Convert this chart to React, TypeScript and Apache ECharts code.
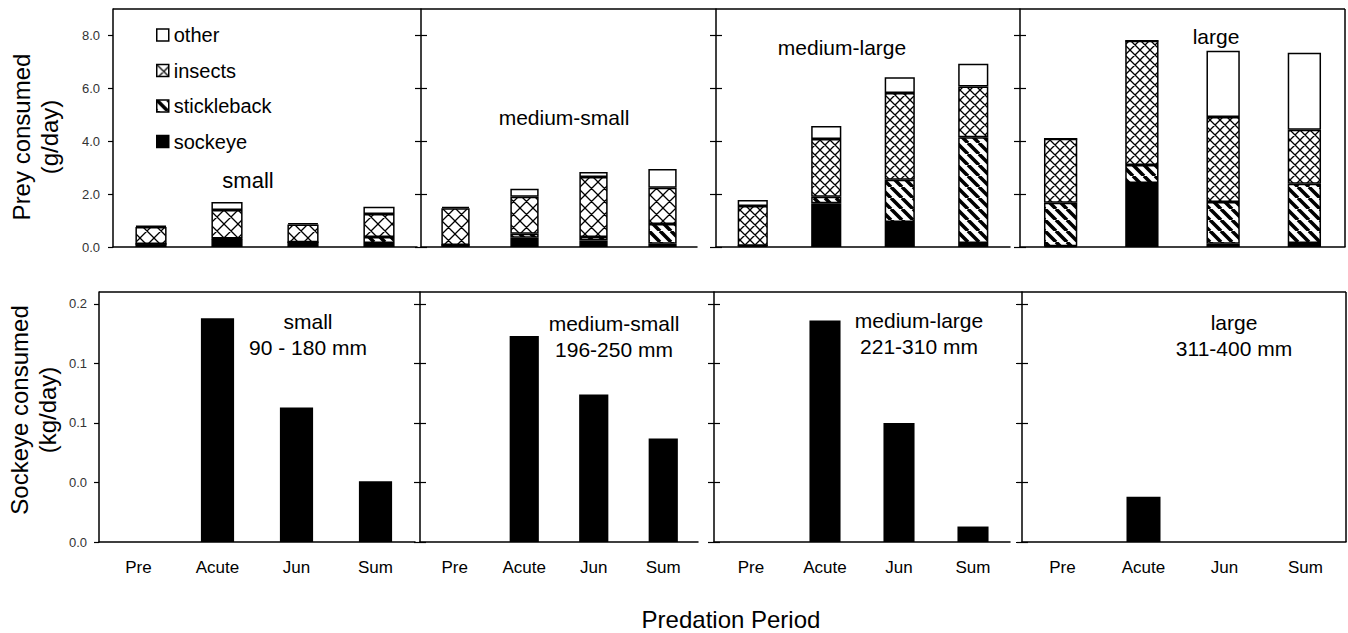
import React, { useEffect, useRef } from 'react';
import * as echarts from 'echarts';

// ---------- data ----------
const categories = ['Pre', 'Acute', 'Jun', 'Sum'];
const sizeClasses = ['small', 'medium-small', 'medium-large', 'large'];
const sizeRanges = ['90 - 180 mm', '196-250 mm', '221-310 mm', '311-400 mm'];
const preyTypes = ['sockeye', 'stickleback', 'insects', 'other']; // stacking order (bottom -> top)
const legendOrder = ['other', 'insects', 'stickleback', 'sockeye'];

// Prey consumed (g/day)
const smallSockeye = [0.11, 0.3, 0.18, 0.15];
const smallStickleback = [0.0, 0.02, 0.0, 0.23];
const smallInsects = [0.65, 1.08, 0.67, 0.87];
const smallOther = [0.04, 0.3, 0.05, 0.27];

const medSmallSockeye = [0.08, 0.35, 0.25, 0.12];
const medSmallStickleback = [0.0, 0.15, 0.13, 0.75];
const medSmallInsects = [1.39, 1.4, 2.27, 1.37];
const medSmallOther = [0.05, 0.3, 0.19, 0.71];

const medLargeSockeye = [0.05, 1.65, 0.95, 0.15];
const medLargeStickleback = [0.0, 0.25, 1.59, 4.0];
const medLargeInsects = [1.5, 2.18, 3.28, 1.92];
const medLargeOther = [0.23, 0.5, 0.6, 0.86];

const largeSockeye = [0.03, 2.42, 0.12, 0.15];
const largeStickleback = [1.64, 0.68, 1.58, 2.24];
const largeInsects = [2.42, 4.7, 3.22, 2.04];
const largeOther = [0.0, 0.0, 2.5, 2.92];

// Sockeye consumed (kg/day)
const sockeyeKgSmall = [0, 0.188, 0.113, 0.051];
const sockeyeKgMedSmall = [0, 0.173, 0.124, 0.087];
const sockeyeKgMedLarge = [0, 0.186, 0.1, 0.013];
const sockeyeKgLarge = [0, 0.038, 0, 0];

const preyTickValues = [0, 2, 4, 6, 8];
const preyTickLabels = ['0.0', '2.0', '4.0', '6.0', '8.0'];
const sockeyeTickValues = [0, 0.05, 0.1, 0.15, 0.2];
const sockeyeTickLabels = ['0.0', '0.0', '0.1', '0.1', '0.2'];

const yTitleTop = 'Prey consumed\n(g/day)';
const yTitleBottom = 'Sockeye consumed\n(kg/day)';
const xTitle = 'Predation Period';

const preyByPanel: Record<string, number[]>[] = [
  { sockeye: smallSockeye, stickleback: smallStickleback, insects: smallInsects, other: smallOther },
  { sockeye: medSmallSockeye, stickleback: medSmallStickleback, insects: medSmallInsects, other: medSmallOther },
  { sockeye: medLargeSockeye, stickleback: medLargeStickleback, insects: medLargeInsects, other: medLargeOther },
  { sockeye: largeSockeye, stickleback: largeStickleback, insects: largeInsects, other: largeOther },
];
const sockeyeKgByPanel = [sockeyeKgSmall, sockeyeKgMedSmall, sockeyeKgMedLarge, sockeyeKgLarge];

// ---------- layout / style ----------
const FONT = '"Liberation Sans", Arial, Helvetica, sans-serif';
const TOP_ROW = { top: 9, height: 238 };
const BOTTOM_ROW = { top: 292, height: 250 };
const TOP_X = [[113, 417], [421, 697], [716, 1010], [1020, 1345]];
const BOTTOM_X = [[99, 415], [420, 698], [714, 1010], [1022, 1346]];
const TOP_LABEL_POS = [[248, 180], [564, 117], [842, 47], [1216, 36]];
const TOP_LABEL_SIZE = [22, 21, 21, 21];
const BOTTOM_LABEL_POS = [[308, 334], [614, 336], [919, 333], [1234, 335]];
const CROSS_CELL = [14, 13, 10, 10];

function makeHatch(kind: 'cross' | 'diag', s: number): HTMLCanvasElement {
  const c = document.createElement('canvas');
  c.width = s;
  c.height = s;
  const ctx = c.getContext('2d')!;
  ctx.fillStyle = '#fff';
  ctx.fillRect(0, 0, s, s);
  ctx.strokeStyle = '#000';
  ctx.lineWidth = kind === 'cross' ? 1.3 : 3.6;
  ctx.beginPath();
  for (const o of [-s, 0, s]) {
    ctx.moveTo(o, 0);
    ctx.lineTo(o + s, s);
    if (kind === 'cross') {
      ctx.moveTo(o, s);
      ctx.lineTo(o + s, 0);
    }
  }
  ctx.stroke();
  return c;
}

function tickFormatter(values: number[], labels: string[]) {
  return (v: number) => {
    for (let i = 0; i < values.length; i++) {
      if (Math.abs(v - values[i]) < 1e-6) return labels[i];
    }
    return '';
  };
}

export default function App() {
  const ref = useRef<HTMLDivElement>(null);

  useEffect(() => {
    const el = ref.current!;
    const chart = echarts.init(el, null, { renderer: 'svg' });

    const diag = makeHatch('diag', 11);
    const grids: any[] = [];
    const xAxes: any[] = [];
    const yAxes: any[] = [];
    const series: any[] = [];
    const graphics: any[] = [];

    const rows = [
      { row: TOP_ROW, xs: TOP_X, max: 9, interval: 2, tv: preyTickValues, tl: preyTickLabels, title: yTitleTop, gap: 50, pad: [0, 18, 0, 0] },
      { row: BOTTOM_ROW, xs: BOTTOM_X, max: 0.21, interval: 0.05, tv: sockeyeTickValues, tl: sockeyeTickLabels, title: yTitleBottom, gap: 38, pad: [0, 0, 0, 14] },
    ];

    rows.forEach((r, ri) => {
      r.xs.forEach(([x0, x1], pi) => {
        const gi = grids.length;
        grids.push({ left: x0, width: x1 - x0, top: r.row.top, height: r.row.height, containLabel: false });
        xAxes.push({
          type: 'category',
          gridIndex: gi,
          position: 'bottom',
          data: categories,
          axisLine: { show: true, lineStyle: { color: '#000', width: 1.5 } },
          axisTick: { show: false },
          axisLabel: {
            show: ri === 1,
            fontSize: 17,
            fontFamily: FONT,
            color: '#000',
            margin: 17,
          },
          splitLine: { show: false },
        });
        const mainY = yAxes.length;
        yAxes.push({
          type: 'value',
          gridIndex: gi,
          position: 'left',
          offset: 0,
          min: 0,
          max: r.max,
          interval: r.interval,
          axisLine: { show: true, onZero: false, lineStyle: { color: '#000', width: 1.5 } },
          axisTick: { show: true, inside: false, length: pi === 0 ? 5 : 6, customValues: r.tv, lineStyle: { color: '#000', width: 1.2 } },
          axisLabel: {
            show: pi === 0,
            customValues: r.tv,
            formatter: tickFormatter(r.tv, r.tl),
            fontSize: 13,
            fontFamily: FONT,
            color: '#333',
            margin: ri === 0 ? 13 : 12,
          },
          splitLine: { show: false },
          name: pi === 0 ? r.title : '',
          nameLocation: 'middle',
          nameRotate: 90,
          nameGap: r.gap,
          nameTextStyle: { fontSize: 24, lineHeight: 28, fontFamily: FONT, color: '#000', padding: r.pad },
        });
        if (pi > 0) {
          yAxes.push({
            type: 'value',
            gridIndex: gi,
            position: 'left',
            offset: 0,
            min: 0,
            max: r.max,
            interval: r.interval,
            axisLine: { show: false, onZero: false },
            axisTick: { show: true, inside: true, length: 6, customValues: r.tv, lineStyle: { color: '#000', width: 1.2 } },
            axisLabel: { show: false },
            splitLine: { show: false },
          });
        }

        if (ri === 0) {
          const cross = makeHatch('cross', CROSS_CELL[pi]);
          const fills: Record<string, any> = {
            sockeye: '#000',
            stickleback: { image: diag, repeat: 'repeat' },
            insects: { image: cross, repeat: 'repeat' },
            other: '#fff',
          };
          preyTypes.forEach((p) => {
            series.push({
              type: 'bar',
              name: p,
              stack: 'panel' + pi,
              xAxisIndex: gi,
              yAxisIndex: mainY,
              barWidth: '41%',
              data: preyByPanel[pi][p],
              itemStyle: { color: fills[p], borderColor: '#000', borderWidth: 1.5 },
              emphasis: { disabled: true },
            });
          });
          graphics.push({
            type: 'text',
            x: TOP_LABEL_POS[pi][0],
            y: TOP_LABEL_POS[pi][1],
            style: {
              text: sizeClasses[pi],
              fontSize: TOP_LABEL_SIZE[pi],
              fontFamily: FONT,
              fill: '#000',
              align: 'center',
              verticalAlign: 'middle',
              textAlign: 'center',
              textVerticalAlign: 'middle',
            },
          });
        } else {
          series.push({
            type: 'bar',
            name: 'Sockeye consumed',
            xAxisIndex: gi,
            yAxisIndex: mainY,
            barWidth: '42%',
            data: sockeyeKgByPanel[pi],
            itemStyle: { color: '#000' },
            emphasis: { disabled: true },
          });
          graphics.push({
            type: 'text',
            x: BOTTOM_LABEL_POS[pi][0],
            y: BOTTOM_LABEL_POS[pi][1],
            style: {
              text: sizeClasses[pi] + '\n' + sizeRanges[pi],
              fontSize: 21,
              lineHeight: 26,
              fontFamily: FONT,
              fill: '#000',
              align: 'center',
              verticalAlign: 'middle',
              textAlign: 'center',
              textVerticalAlign: 'middle',
            },
          });
        }
      });
    });

    // frame lines (top and right borders of each row)
    const frame = { stroke: '#000', lineWidth: 1.5 };
    graphics.push(
      { type: 'line', shape: { x1: TOP_X[0][0], y1: TOP_ROW.top, x2: TOP_X[3][1], y2: TOP_ROW.top }, style: frame },
      { type: 'line', shape: { x1: TOP_X[3][1], y1: TOP_ROW.top, x2: TOP_X[3][1], y2: TOP_ROW.top + TOP_ROW.height }, style: frame },
      { type: 'line', shape: { x1: BOTTOM_X[0][0], y1: BOTTOM_ROW.top, x2: BOTTOM_X[3][1], y2: BOTTOM_ROW.top }, style: frame },
      { type: 'line', shape: { x1: BOTTOM_X[3][1], y1: BOTTOM_ROW.top, x2: BOTTOM_X[3][1], y2: BOTTOM_ROW.top + BOTTOM_ROW.height }, style: frame },
      {
        type: 'text',
        x: 731,
        y: 619,
        style: {
          text: xTitle,
          fontSize: 24,
          fontFamily: FONT,
          fill: '#000',
          align: 'center',
          verticalAlign: 'middle',
          textAlign: 'center',
          textVerticalAlign: 'middle',
        },
      }
    );

    chart.setOption({
      animation: false,
      backgroundColor: '#fff',
      grid: grids,
      xAxis: xAxes,
      yAxis: yAxes,
      legend: {
        data: legendOrder,
        orient: 'vertical',
        left: 151,
        top: 20,
        itemWidth: 12,
        itemHeight: 12,
        itemGap: 15.5,
        icon: 'rect',
        selectedMode: false,
        itemStyle: { borderColor: '#000', borderWidth: 1.5 },
        textStyle: { fontSize: 20, fontFamily: FONT, color: '#000', padding: [0, 0, 0, 0] },
      },
      series,
      graphic: graphics,
    });

    return () => chart.dispose();
  }, []);

  return (
    <div
      ref={ref}
      style={{ position: 'absolute', left: 0, top: 0, width: 1348, height: 633, background: '#fff' }}
    />
  );
}
